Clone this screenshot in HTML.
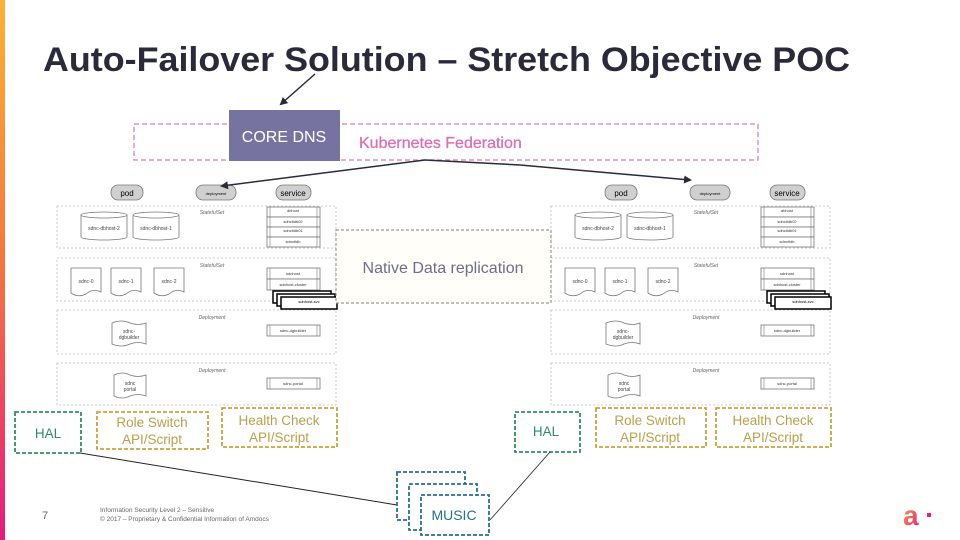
<!DOCTYPE html>
<html><head><meta charset="utf-8"><style>
html,body{margin:0;padding:0;background:#fff;}
svg{display:block;font-family:"Liberation Sans",sans-serif;}
</style></head><body>
<svg width="960" height="540" viewBox="0 0 960 540" xmlns="http://www.w3.org/2000/svg">
<defs>
<linearGradient id="bar" x1="0" y1="0" x2="0" y2="1"><stop offset="0" stop-color="#fbb231"/><stop offset="0.5" stop-color="#f6733f"/><stop offset="1" stop-color="#e8197f"/></linearGradient>
<linearGradient id="logo" x1="0" y1="0" x2="1" y2="1"><stop offset="0" stop-color="#f8a532"/><stop offset="1" stop-color="#e51f86"/></linearGradient>
<marker id="ah" markerWidth="8" markerHeight="8" refX="6" refY="4" orient="auto" markerUnits="userSpaceOnUse"><path d="M0,0 L8,4 L0,8 z" fill="#2a2a3a"/></marker>
<g id="cluster">
  <g font-size="7" text-anchor="middle">
  <rect x="111" y="185" width="32" height="15" rx="7" fill="#d0d0d0" stroke="#777" stroke-width="0.8"/><text x="127" y="196" font-size="8">pod</text>
  <rect x="196" y="185" width="40" height="15" rx="7" fill="#d0d0d0" stroke="#777" stroke-width="0.8"/><text x="216" y="195" font-size="4">deployment</text>
  <rect x="276" y="185" width="35" height="15" rx="7" fill="#d0d0d0" stroke="#777" stroke-width="0.8"/><text x="293" y="196" font-size="8">service</text>
  </g>
  <g fill="none" stroke="#bbb" stroke-width="0.8" stroke-dasharray="2,2">
  <rect x="57" y="206" width="279" height="42"/>
  <rect x="57" y="258" width="279" height="43"/>
  <rect x="57" y="310" width="279" height="44"/>
  <rect x="57" y="363" width="279" height="42"/>
  </g>
  <g font-size="5" fill="#666" font-style="italic" text-anchor="middle">
  <text x="212" y="214">StatefulSet</text><text x="212" y="267">StatefulSet</text>
  <text x="212" y="319">Deployment</text><text x="212" y="372">Deployment</text>
  </g>
  <g fill="#fff" stroke="#777" stroke-width="0.8">
  <path d="M81,215 v22 a23,3 0 0 0 46,0 v-22"/><ellipse cx="104" cy="215" rx="23" ry="3"/>
  <path d="M133,215 v22 a23,3 0 0 0 46,0 v-22"/><ellipse cx="156" cy="215" rx="23" ry="3"/>
  <path d="M71,268 h30 v24 q-8,-4 -15,2 q-8,4 -15,-1 z"/>
  <path d="M111,268 h30 v24 q-8,-4 -15,2 q-8,4 -15,-1 z"/>
  <path d="M154,268 h30 v24 q-8,-4 -15,2 q-8,4 -15,-1 z"/>
  <path d="M112,323 q10,-4 18,0 q8,3 16,0 v21 q-8,-3 -16,0 q-8,4 -18,0 z"/>
  <path d="M114,375 q9,-4 16,0 q8,3 16,0 v21 q-8,-3 -16,0 q-8,4 -16,0 z"/>
  </g>
  <g font-size="5" fill="#444" text-anchor="middle">
  <text x="104" y="230">sdnc-dbhost-2</text><text x="156" y="230">sdnc-dbhost-1</text>
  <text x="86" y="283">sdnc-0</text><text x="126" y="283">sdnc-1</text><text x="169" y="283">sdnc-2</text>
  <text x="129" y="333">sdnc-</text><text x="129" y="339">dgbuilder</text>
  <text x="130" y="385">sdnc</text><text x="130" y="391">portal</text>
  </g>
  <g fill="#fff" stroke="#777" stroke-width="0.8">
  <rect x="267" y="207" width="53" height="10"/><rect x="267" y="217" width="53" height="10"/><rect x="267" y="227" width="53" height="10"/><rect x="267" y="237" width="53" height="10"/>
  <rect x="267" y="268" width="53" height="11"/><rect x="267" y="279" width="53" height="11"/>
  <rect x="267" y="325" width="53" height="11"/><rect x="267" y="378" width="53" height="11"/>
  </g>
  <g stroke="#777" stroke-width="0.6"><path d="M270,207v40M317,207v40M270,268v22M317,268v22M270,325v11M317,325v11M270,378v11M317,378v11"/></g>
  <g font-size="4" fill="#333" text-anchor="middle">
  <text x="293" y="212">dbhost</text><text x="293" y="223">sdnctldb02</text><text x="293" y="232">sdnctldb01</text><text x="293" y="243">sdnctldb</text>
  <text x="293" y="275">sdnhost</text><text x="293" y="286">sdnhost-cluster</text>
  <text x="293" y="332">sdnc-dgbuilder</text><text x="293" y="385">sdnc-portal</text>
  </g>
  <g fill="#fff" stroke="#000" stroke-width="1.5">
  <rect x="273" y="291" width="58" height="12"/><rect x="277" y="294" width="58" height="12"/><rect x="281" y="297" width="56" height="12"/>
  </g>
  <text x="309" y="303" font-size="4" text-anchor="middle">sdnhost-svc</text>
</g>
</defs>
<rect x="0" y="0" width="5" height="540" fill="url(#bar)"/>
<text x="43" y="71" font-size="34" font-weight="bold" fill="#2a2a3a" textLength="807" lengthAdjust="spacingAndGlyphs">Auto-Failover Solution – Stretch Objective POC</text>
<line x1="315" y1="74" x2="281" y2="104" stroke="#2a2a3a" stroke-width="1.5" marker-end="url(#ah)"/>
<rect x="134" y="124" width="624" height="36" fill="none" stroke="#e38ec4" stroke-width="1.5" stroke-dasharray="5,3"/>
<rect x="229" y="110" width="111" height="51" fill="#7673a0"/>
<text x="284" y="142" font-size="16" fill="#fff" text-anchor="middle">CORE DNS</text>
<text x="359" y="148" font-size="16" fill="#db6fb3" stroke="#db6fb3" stroke-width="0.3">Kubernetes Federation</text>
<use href="#cluster"/>
<use href="#cluster" transform="translate(494,0)"/>
<line x1="425" y1="160" x2="222" y2="186" stroke="#2a2a3a" stroke-width="1.5" marker-end="url(#ah)"/>
<polyline points="425,160 520,165 690,180" fill="none" stroke="#2a2a3a" stroke-width="1.5" marker-end="url(#ah)"/>
<rect x="336" y="230" width="215" height="73" fill="#fffef8" stroke="#999" stroke-width="1.2" stroke-dasharray="3,2"/>
<text x="443" y="273" font-size="16" fill="#6e6d8c" text-anchor="middle">Native Data replication</text>
<g fill="none" stroke-width="1.8" stroke-dasharray="4,2">
<rect x="15" y="412" width="66" height="41" stroke="#2e9064"/>
<rect x="97" y="412" width="111" height="37" stroke="#c9a43a"/>
<rect x="222" y="408" width="115" height="39" stroke="#c9a43a"/>
<rect x="515" y="412" width="65" height="40" stroke="#2e9064"/>
<rect x="596" y="408" width="110" height="39" stroke="#c9a43a"/>
<rect x="716" y="408" width="115" height="39" stroke="#c9a43a"/>
</g>
<g font-size="13.5" text-anchor="middle">
<text x="48" y="438" fill="#2e8a6e">HAL</text>
<text x="152" y="427" fill="#b9a04a">Role Switch</text><text x="152" y="444" fill="#b9a04a">API/Script</text>
<text x="279" y="425" fill="#b9a04a">Health Check</text><text x="279" y="442" fill="#b9a04a">API/Script</text>
<text x="546" y="436" fill="#2e8a6e">HAL</text>
<text x="650" y="425" fill="#b9a04a">Role Switch</text><text x="650" y="442" fill="#b9a04a">API/Script</text>
<text x="773" y="425" fill="#b9a04a">Health Check</text><text x="773" y="442" fill="#b9a04a">API/Script</text>
</g>
<line x1="80" y1="453" x2="397" y2="505" stroke="#222" stroke-width="1"/>
<line x1="550" y1="452" x2="490" y2="520" stroke="#222" stroke-width="0.8"/>
<g fill="#fff" stroke="#2a6f8c" stroke-width="1.8" stroke-dasharray="4,2">
<rect x="397" y="472" width="68" height="48"/>
<rect x="409" y="484" width="68" height="46"/>
<rect x="421" y="495" width="68" height="40"/>
</g>
<text x="454" y="520" font-size="14" fill="#2a6f8c" text-anchor="middle">MUSIC</text>
<text x="45" y="519" font-size="11" fill="#666" text-anchor="middle">7</text>
<text x="100" y="512" font-size="6.5" fill="#666">Information Security Level 2 – Sensitive</text>
<text x="100" y="521" font-size="6.5" fill="#666">© 2017 – Proprietary &amp; Confidential Information of Amdocs</text>
<text x="903" y="525" font-size="28" font-weight="bold" fill="url(#logo)">a</text>
<rect x="927" y="513" width="4" height="4" fill="#e51f86"/>
</svg>
</body></html>
